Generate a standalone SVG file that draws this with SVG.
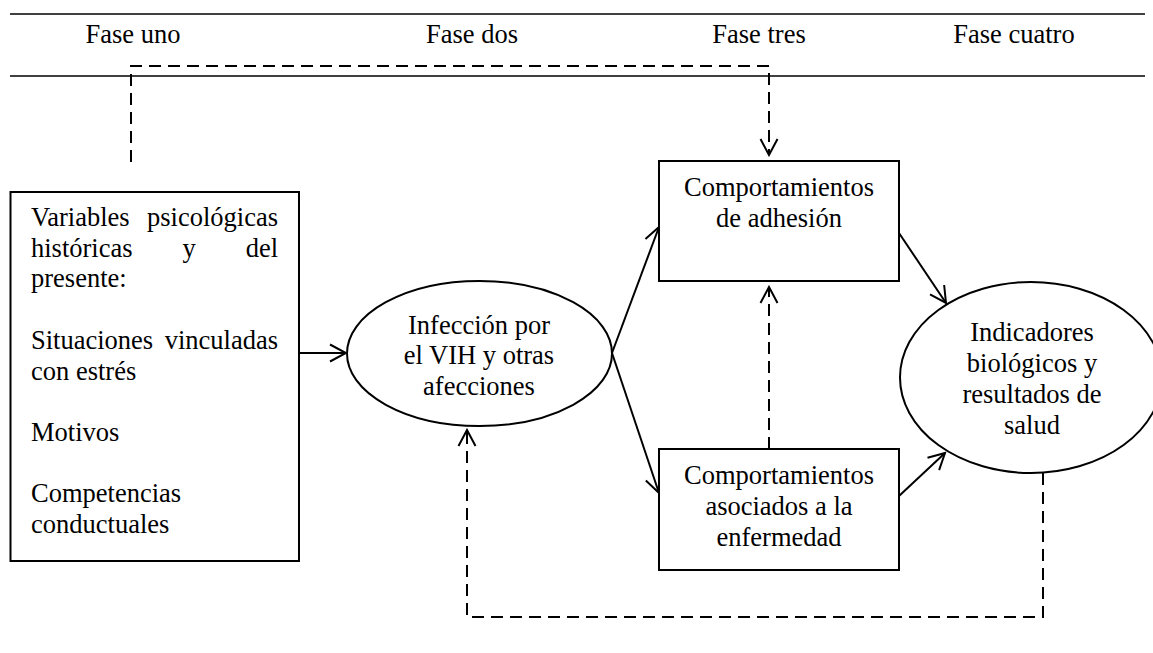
<svg xmlns="http://www.w3.org/2000/svg" width="1153" height="653" viewBox="0 0 1153 653">
<style>
text{font-family:"Liberation Serif","Times New Roman",serif;font-size:26.5px;fill:#000}
.c{text-anchor:middle}
.e{text-anchor:end}
.shape{fill:#fff;stroke:#000;stroke-width:2}
.rule{stroke:#000;stroke-width:1.3;fill:none}
.solid{stroke:#000;stroke-width:2;fill:none}
.dash{stroke:#000;stroke-width:2;fill:none;stroke-dasharray:12 7}
</style>
<defs>
<marker id="arr" markerUnits="userSpaceOnUse" viewBox="-19 -11 21 22" refX="0" refY="0" markerWidth="21" markerHeight="22" orient="auto">
<path d="M-16,-8.5 L0,0 L-16,8.5" fill="none" stroke="#000" stroke-width="2"/>
</marker>
</defs>
<rect width="1153" height="653" fill="#fff"/>
<g id="header">
<line class="rule" x1="10" y1="14" x2="1145" y2="14"/>
<line class="rule" x1="10" y1="76" x2="1145" y2="76"/>
<text class="c" x="133" y="43">Fase uno</text>
<text class="c" x="472" y="43">Fase dos</text>
<text class="c" x="759" y="43">Fase tres</text>
<text class="c" x="1014" y="43">Fase cuatro</text>
</g>
<g id="connectors">
<path class="dash" d="M131,162 V66 H769 V155" marker-end="url(#arr)"/>
<line class="solid" x1="299" y1="353" x2="346" y2="353" marker-end="url(#arr)"/>
<line class="solid" x1="612" y1="353" x2="659" y2="227" marker-end="url(#arr)"/>
<line class="solid" x1="612" y1="353" x2="659" y2="493" marker-end="url(#arr)"/>
<line class="solid" x1="899" y1="233" x2="946" y2="303" marker-end="url(#arr)"/>
<line class="solid" x1="899" y1="496" x2="945" y2="453" marker-end="url(#arr)"/>
<line class="dash" x1="769" y1="449" x2="769" y2="287" marker-end="url(#arr)"/>
<path class="dash" d="M1043,473 V617 H467 V430" marker-end="url(#arr)"/>
</g>
<g id="variables">
<rect class="shape" x="10.5" y="192" width="288.5" height="369"/>
<text x="31" y="226">Variables</text>
<text class="e" x="278" y="226">psicológicas</text>
<text x="31" y="257">históricas</text>
<text x="182.5" y="257">y</text>
<text class="e" x="278" y="257">del</text>
<text x="31" y="287">presente:</text>
<text x="31" y="349">Situaciones</text>
<text class="e" x="278" y="349">vinculadas</text>
<text x="31" y="380">con estrés</text>
<text x="31" y="441">Motivos</text>
<text x="31" y="502">Competencias</text>
<text x="31" y="533">conductuales</text>
</g>
<g id="infeccion">
<ellipse class="shape" cx="479.5" cy="353.5" rx="132.5" ry="72.5"/>
<text class="c" x="479" y="334">Infección por</text>
<text class="c" x="479" y="364">el VIH y otras</text>
<text class="c" x="479" y="395">afecciones</text>
</g>
<g id="adhesion">
<rect class="shape" x="659" y="161" width="240" height="120"/>
<text class="c" x="779" y="196">Comportamientos</text>
<text class="c" x="779" y="227">de adhesión</text>
</g>
<g id="enfermedad">
<rect class="shape" x="659" y="449" width="240" height="121"/>
<text class="c" x="779" y="484">Comportamientos</text>
<text class="c" x="779" y="515">asociados a la</text>
<text class="c" x="779" y="546">enfermedad</text>
</g>
<g id="indicadores">
<ellipse class="shape" cx="1031" cy="377.5" rx="131" ry="95.5"/>
<text class="c" x="1032" y="341">Indicadores</text>
<text class="c" x="1032" y="372">biológicos y</text>
<text class="c" x="1032" y="403">resultados de</text>
<text class="c" x="1032" y="434">salud</text>
</g>
</svg>
